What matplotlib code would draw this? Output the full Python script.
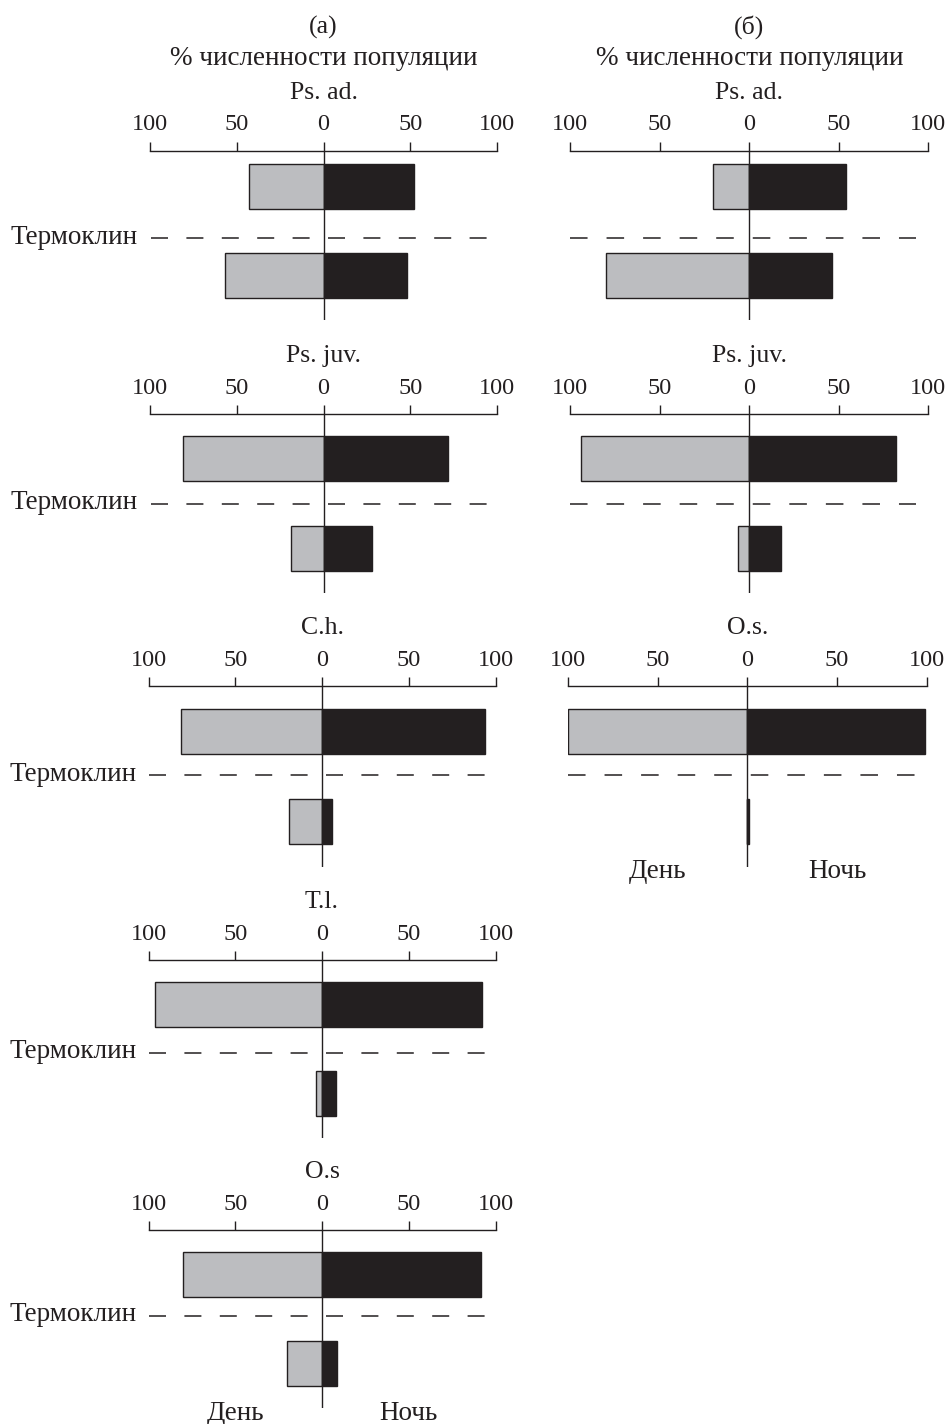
import numpy as np
import matplotlib.pyplot as plt
from matplotlib.ticker import FuncFormatter, FixedLocator

plt.rcParams["font.family"] = ["Liberation Serif", "DejaVu Serif"]
plt.rcParams["font.size"] = 17.5

W, H = 948, 1424
PT = 72 / 100          # points per pixel at dpi=100
INK = "#231f20"
DAY_C = "#bcbdc0"
FS_TICK, FS_NAME, FS_RU = 17.5, 18.5, 19.5

# % of population above (first) and below (second) the thermocline
a_names = ["Ps. ad.", "Ps. juv.", "C.h.", "T.l.", "O.s"]
a_day = [[43, 57], [81, 19], [81, 19], [96.5, 3.5], [80, 20]]
a_night = [[52, 48], [72, 28], [94, 6], [92, 8], [91.5, 8.5]]

b_names = ["Ps. ad.", "Ps. juv.", "O.s."]
b_day = [[20, 80], [94, 6], [100, 0]]
b_night = [[54, 46], [82, 18], [99, 1]]

ticks = [-100, -50, 0, 50, 100]

# row geometry in pixels: axis line y, bottom of zero line y
row_top = [150.7, 414, 686, 960, 1230]
row_bot = [320, 593, 866.7, 1138.3, 1408.3]
row_ytop = [-0.4, -0.5, -0.5, -0.5, -0.5]
row_therm = [0.58, 0.5, 0.49, 0.54, 0.46]

fig = plt.figure(figsize=(W / 100, H / 100), dpi=100)


def panel(row, x0, width, name, day, night, therm_x, label_therm, daynight=False):
    y0, y1 = row_top[row], row_bot[row]
    ax = fig.add_axes([x0 / W, 1 - y1 / H, width / W, (y1 - y0) / H])
    ax.set_xlim(-100, 100)
    ax.set_ylim(1.5, row_ytop[row])
    ax.patch.set_visible(False)
    for s in ["left", "right", "bottom"]:
        ax.spines[s].set_visible(False)
    ax.spines["top"].set_linewidth(1.0)
    ax.spines["top"].set_color(INK)
    ax.xaxis.tick_top()
    ax.xaxis.set_major_locator(FixedLocator(ticks))
    ax.xaxis.set_major_formatter(FuncFormatter(lambda v, p: f"{abs(v):g}"))
    ax.tick_params(axis="x", direction="out", length=9 * PT, width=1.0,
                   color=INK, pad=4.5, labelsize=FS_TICK, labelcolor=INK)
    ax.set_yticks([])

    ypos = np.arange(2)
    ax.barh(ypos, -np.array(day), height=0.5, color=DAY_C, edgecolor=INK, lw=1.0)
    ax.barh(ypos, night, height=0.5, color=INK, edgecolor=INK, lw=1.0)
    ax.axvline(0, color=INK, lw=1.0, zorder=5)

    scale = width / 347
    ax.plot(therm_x, [row_therm[row]] * 2, color=INK, lw=1.1,
            dashes=(17 * scale * PT / 1.1, 18.4 * scale * PT / 1.1),
            solid_capstyle="butt", dash_capstyle="butt")
    if label_therm:
        ax.annotate("Термоклин", xy=(-100, row_therm[row]), xycoords="data",
                    xytext=(-12 * PT, -5.6 * PT), textcoords="offset points",
                    ha="right", va="baseline", color=INK, fontsize=FS_RU,
                    annotation_clip=False)

    ax.annotate(name, xy=(0.5, 1), xycoords="axes fraction",
                xytext=(0, 52 * PT), textcoords="offset points",
                ha="center", va="baseline", color=INK, fontsize=FS_NAME)
    if daynight:
        for xv, txt in [(-50, "День"), (50, "Ночь")]:
            ax.annotate(txt, xy=(xv, 0), xycoords=("data", "axes fraction"),
                        xytext=(0, -11.6 * PT), textcoords="offset points",
                        ha="center", va="baseline", color=INK, fontsize=FS_RU,
                        annotation_clip=False)
    return ax


# column (а)
a_x0 = [150, 150, 148.5, 148.5, 148.5]
for i, name in enumerate(a_names):
    panel(i, a_x0[i], 347, name, a_day[i], a_night[i], [-99.5, 94], True,
          daynight=(i == len(a_names) - 1))

# column (б)
b_x0 = [570, 570, 568.3]
for i, name in enumerate(b_names):
    panel(i, b_x0[i], 358.3, name, b_day[i], b_night[i], [-100, 93.4], False,
          daynight=(i == len(b_names) - 1))

# column headers
for xc, letter in [(323.5, "(a)"), (749.3, "(б)")]:
    fig.text(xc / W, 1 - 34 / H, letter, ha="center", va="baseline",
             color=INK, fontsize=FS_NAME)
    fig.text(xc / W, 1 - 65 / H, "% численности популяции",
             ha="center", va="baseline", color=INK, fontsize=FS_RU)

fig.savefig("out.png", dpi=100)
